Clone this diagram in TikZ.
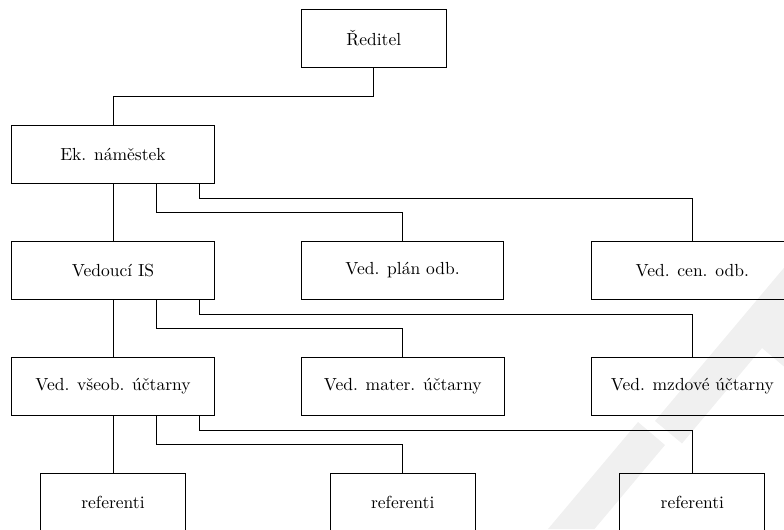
\documentclass[tikz,border=0pt]{standalone}
\usetikzlibrary{calc}
\begin{document}
\begin{tikzpicture}[x=0.5714pt,y=-0.5714pt,
  wide/.style={draw, line width=0.5pt, inner sep=0pt, minimum width=115.8pt, minimum height=32.9pt, font=\normalsize},
  narrow/.style={wide, minimum width=82.8pt},
  link/.style={draw, line width=0.5pt}]
\useasboundingbox (0,0) rectangle (784,529);
\clip (0,0) rectangle (784,529);

% faint background mark
\fill[black!6] (548,529) -- (638,422) -- (665,445) -- (594.5,529) -- cycle;
\fill[black!6] (655,421) -- (820,225) -- (820,397) -- (762,348) -- (682,443.5) -- cycle;

% boxes
\node[narrow] (dir)   at (373.8,38.5)  {Ředitel};
\node[wide]   (ek)    at (113,154.7)   {Ek. náměstek};
\node[wide]   (vis)   at (113,270.5)   {Vedoucí IS};
\node[wide]   (plan)  at (402.5,270.5) {Ved. plán odb.};
\node[wide]   (cen)   at (692.3,270.5) {Ved. cen. odb.};
\node[wide]   (vseob) at (113,386.2)   {Ved. všeob. účtarny};
\node[wide]   (mater) at (402.7,386.2) {Ved. mater. účtarny};
\node[wide]   (mzd)   at (692.3,386.2) {Ved. mzdové účtarny};
\node[narrow] (ref1)  at (113,502.1)   {referenti};
\node[narrow] (ref2)  at (402.7,502.1) {referenti};
\node[narrow] (ref3)  at (692.3,502.1) {referenti};

% connectors
\draw[link] (dir.south) -- ++(0,29) -| (ek.north);

\draw[link] (ek.south) -- (vis.north);
\draw[link] ($(ek.south)+(43.4,0)$) -- ++(0,29) -| (plan.north);
\draw[link] ($(ek.south)+(86.7,0)$) -- ++(0,15) -| (cen.north);

\draw[link] (vis.south) -- (vseob.north);
\draw[link] ($(vis.south)+(43.4,0)$) -- ++(0,29) -| (mater.north);
\draw[link] ($(vis.south)+(86.7,0)$) -- ++(0,15) -| (mzd.north);

\draw[link] (vseob.south) -- (ref1.north);
\draw[link] ($(vseob.south)+(43.4,0)$) -- ++(0,29) -| (ref2.north);
\draw[link] ($(vseob.south)+(86.7,0)$) -- ++(0,15) -| (ref3.north);
\end{tikzpicture}
\end{document}
